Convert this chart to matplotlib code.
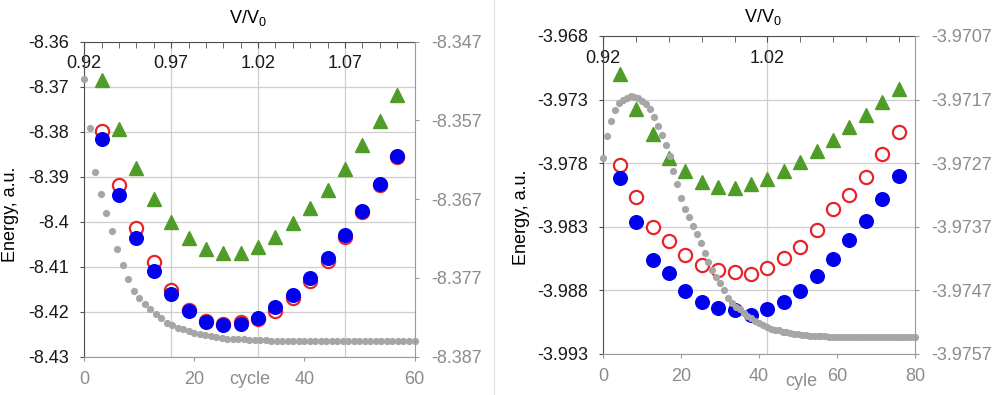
import matplotlib
matplotlib.use('Agg')
import matplotlib.pyplot as plt
from matplotlib import ticker
from matplotlib.lines import Line2D
import numpy as np

plt.rcParams['font.family'] = ['Liberation Sans', 'DejaVu Sans']

# ---- data: left panel ----
vv = [0.93, 0.94, 0.95, 0.96, 0.97, 0.98, 0.99, 1.00, 1.01,
      1.02, 1.03, 1.04, 1.05, 1.06, 1.07, 1.08, 1.09, 1.10]

left_red = [-8.3799, -8.3918, -8.4015, -8.4090, -8.4152, -8.4196, -8.4220, -8.4228, -8.4224,
            -8.4216, -8.4198, -8.4170, -8.4131, -8.4087, -8.4033, -8.3979, -8.3918, -8.3856]
left_blue = [-8.3816, -8.3940, -8.4036, -8.4109, -8.4161, -8.4198, -8.4222, -8.4230, -8.4227,
             -8.4213, -8.4190, -8.4162, -8.4125, -8.4081, -8.4029, -8.3977, -8.3917, -8.3853]
left_green = [-8.3686, -8.3794, -8.3881, -8.3950, -8.4001, -8.4037, -8.4061, -8.4069, -8.4069,
              -8.4056, -8.4035, -8.4004, -8.3970, -8.3929, -8.3882, -8.3830, -8.3776, -8.3718]

left_cycles = list(range(0, 61))
left_gray = [-8.3517, -8.3580, -8.3636, -8.3663, -8.3687, -8.3710, -8.3733, -8.3753, -8.3771, -8.3787,
             -8.3795, -8.3803, -8.3809, -8.3816, -8.3821, -8.3827, -8.3830, -8.3833, -8.3835, -8.3837,
             -8.3840, -8.3841, -8.3842, -8.3844, -8.3845, -8.3846, -8.3847, -8.3847, -8.3848, -8.3848,
             -8.3849, -8.3849, -8.3849, -8.3849, -8.3850, -8.3850, -8.3850, -8.3850, -8.3850, -8.3850,
             -8.3850, -8.3850, -8.3850, -8.3850, -8.3850, -8.3850, -8.3850, -8.3850, -8.3850, -8.3850,
             -8.3850, -8.3850, -8.3850, -8.3850, -8.3850, -8.3850, -8.3850, -8.3850, -8.3850, -8.3850,
             -8.3850]

# ---- data: right panel ----
right_red = [-3.97818, -3.98068, -3.98305, -3.98411, -3.98524, -3.98603, -3.98639, -3.98653, -3.98668,
             -3.98626, -3.98542, -3.98455, -3.98326, -3.98161, -3.98047, -3.97905, -3.97726, -3.97555]
right_blue = [-3.97918, -3.98262, -3.98562, -3.98665, -3.98805, -3.98890, -3.98937, -3.98955, -3.98995,
              -3.98948, -3.98892, -3.98805, -3.98687, -3.98555, -3.98403, -3.98258, -3.98082, -3.97897]
right_green = [-3.97095, -3.97376, -3.97568, -3.97761, -3.97863, -3.97950, -3.97984, -3.97995, -3.97963,
               -3.97924, -3.97858, -3.97787, -3.97708, -3.97616, -3.97516, -3.97418, -3.97318, -3.97218]

right_cycles = list(range(0, 81))
right_gray = [-3.97262, -3.97227, -3.97204, -3.97186, -3.97176, -3.97170, -3.97167, -3.97165, -3.97166, -3.97168,
              -3.97172, -3.97177, -3.97185, -3.97197, -3.97211, -3.97225, -3.97241, -3.97258, -3.97283, -3.97303,
              -3.97325, -3.97342, -3.97355, -3.97369, -3.97382, -3.97396, -3.97411, -3.97425, -3.97438, -3.97449,
              -3.97459, -3.97469, -3.97482, -3.97490, -3.97496, -3.97500, -3.97505, -3.97510, -3.97514, -3.97518,
              -3.97522, -3.97525, -3.97528, -3.97530, -3.97532, -3.97533, -3.97535, -3.97536, -3.97537, -3.97538,
              -3.97539, -3.97540, -3.97540, -3.97541, -3.97541, -3.97542, -3.97542, -3.97542, -3.97543, -3.97543,
              -3.97543, -3.97543, -3.97543, -3.97543, -3.97544, -3.97544, -3.97544, -3.97544, -3.97544, -3.97544,
              -3.97544, -3.97544, -3.97544, -3.97544, -3.97544, -3.97544, -3.97544, -3.97544, -3.97544, -3.97544,
              -3.97544]

fontSize = 13
gray_text = '#8c8c8c'
dark = '#505050'
dot_gray = '#a6a6a6'
blue = '#0000ee'
red = '#e8242b'
green = '#509c28'

W, H = 1000.0, 395.0
vmin, vmax = 0.92, 1.11


def fmt(v, pos):
    return '%g' % round(v, 5)


def px_rect(x0, x1, y0, y1):
    # pixel box (top-left origin) -> figure fraction rect
    return [x0 / W, 1 - y1 / H, (x1 - x0) / W, (y1 - y0) / H]


def draw_panel(rect, red_v, blue_v, green_v, cycles, gray_v, ylim, nleft, y2lim, nright,
               cyclemax, top_major, top_minor):
    ax = fig.add_axes(rect)
    ax.set_xlim(vmin, vmax)
    ax.set_ylim(*ylim)
    ax.xaxis.tick_top()
    ax.xaxis.set_major_locator(ticker.FixedLocator(np.arange(vmin, vmax + 1e-6, top_major)))
    ax.xaxis.set_minor_locator(ticker.FixedLocator(np.arange(vmin, vmax + 1e-6, top_minor)))
    ax.xaxis.set_major_formatter(ticker.FuncFormatter(fmt))
    ax.yaxis.set_major_locator(ticker.LinearLocator(nleft))
    ax.yaxis.set_major_formatter(ticker.FuncFormatter(fmt))
    ax.grid(True, color='#cdcdcd', lw=0.9)
    ax.set_axisbelow(True)
    ax.tick_params(axis='x', which='both', direction='in', length=4, pad=-22,
                   labelsize=fontSize, color=dark, labelcolor='#1a1a1a')
    ax.tick_params(axis='y', direction='out', length=3, pad=8,
                   labelsize=fontSize, color=dark, labelcolor='#1a1a1a')
    ax.spines['right'].set_visible(False)
    ax.spines['bottom'].set_visible(False)
    ax.spines['left'].set_color(dark)
    ax.spines['top'].set_color(dark)

    ax.plot(vv, red_v, 'o', ms=9.5, mfc='white', mec=red, mew=1.6, linestyle='none')
    ax.plot(vv, blue_v, 'o', ms=9.8, color=blue, mec=blue, linestyle='none')
    ax.plot(vv, green_v, '^', ms=10.5, color=green, mec=green, linestyle='none')

    ax2 = fig.add_axes(rect, facecolor='none')
    ax2.set_xlim(0, cyclemax)
    ax2.set_ylim(*y2lim)
    ax2.xaxis.set_major_locator(ticker.MultipleLocator(20))
    ax2.yaxis.set_major_locator(ticker.LinearLocator(nright))
    ax2.yaxis.set_major_formatter(ticker.FuncFormatter(fmt))
    ax2.yaxis.tick_right()
    ax2.tick_params(axis='x', direction='out', length=3, pad=7,
                    labelsize=fontSize, color='#9a9a9a', labelcolor=gray_text)
    ax2.tick_params(axis='y', direction='out', length=3, pad=9,
                    labelsize=fontSize, color='#9a9a9a', labelcolor=gray_text)
    ax2.spines['left'].set_visible(False)
    ax2.spines['top'].set_visible(False)
    ax2.spines['right'].set_color('#9a9a9a')
    ax2.spines['bottom'].set_color('#9a9a9a')
    ax2.plot(cycles, gray_v, 'o', ms=5.2, color=dot_gray, mec='none', linestyle='none', clip_on=False)
    return ax, ax2


fig = plt.figure(figsize=(10, 3.95), dpi=100)

draw_panel(px_rect(84.3, 414.5, 41.7, 356.7), left_red, left_blue, left_green,
           left_cycles, left_gray, (-8.43, -8.36), 8, (-8.387, -8.347), 5, 60, 0.05, 0.01)
draw_panel(px_rect(603.3, 915, 36, 354), right_red, right_blue, right_green,
           right_cycles, right_gray, (-3.993, -3.968), 6, (-3.9757, -3.9707), 6, 80, 0.1, 0.02)

fig.text(248 / W, 1 - 18 / H, 'V/V$_\\mathregular{0}$', ha='center', va='center', fontsize=fontSize)
fig.text(763 / W, 1 - 17 / H, 'V/V$_\\mathregular{0}$', ha='center', va='center', fontsize=fontSize)
fig.text(11 / W, 1 - 214 / H, 'Energy, a.u.', rotation=90, ha='center', va='center', fontsize=fontSize)
fig.text(521 / W, 1 - 217 / H, 'Energy, a.u.', rotation=90, ha='center', va='center', fontsize=fontSize)
fig.text(250 / W, 1 - 379 / H, 'cycle', ha='center', va='center', fontsize=fontSize, color=gray_text)
fig.text(801 / W, 1 - 381 / H, 'cyle', ha='center', va='center', fontsize=fontSize, color=gray_text)

fig.add_artist(Line2D([0.494, 0.494], [0, 1], color='#e4e4e4', lw=1))

fig.savefig('out.png', dpi=100, facecolor='white')
